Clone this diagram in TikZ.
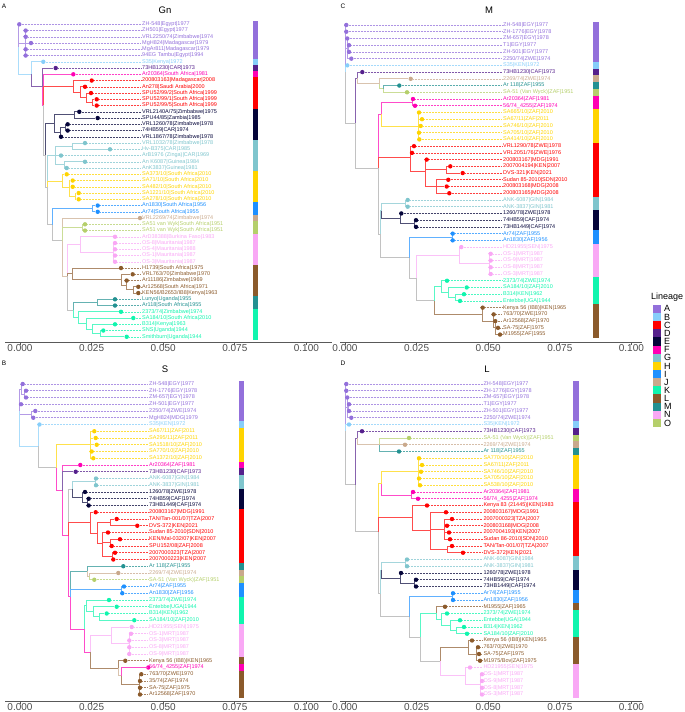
\documentclass[tikz,border=0pt]{standalone}
\usepackage{fontspec}
\setmainfont{Liberation Sans}
\pgfdeclarelayer{bg}
\pgfsetlayers{bg,main}
\definecolor{linA}{HTML}{9370DB}
\definecolor{linB}{HTML}{87CEFA}
\definecolor{linC}{HTML}{FF0000}
\definecolor{linD}{HTML}{55208C}
\definecolor{linE}{HTML}{05053A}
\definecolor{linF}{HTML}{FF00B4}
\definecolor{linG}{HTML}{7FC5CD}
\definecolor{linH}{HTML}{FFD400}
\definecolor{linI}{HTML}{1E90FF}
\definecolor{linJ}{HTML}{C9A98C}
\definecolor{linK}{HTML}{10F5AE}
\definecolor{linL}{HTML}{8B5A2B}
\definecolor{linM}{HTML}{239191}
\definecolor{linN}{HTML}{F9A8F5}
\definecolor{linO}{HTML}{B5CF6B}
\definecolor{linX}{HTML}{A8A8A8}

\begin{document}
\begin{tikzpicture}[x=1pt,y=-1pt,
    tipdot/.style={circle,inner sep=0pt,minimum size=4.4pt},
    tiplab/.style={anchor=west,inner sep=0pt,font=\fontsize{5.5}{6}\selectfont},
    lead/.style={line width=0.6pt,dash pattern=on 0.6pt off 0.9pt},
    br/.style={line width=0.9pt},
    ttl/.style={font=\fontsize{9.5}{11}\selectfont},
    plab/.style={font=\fontsize{6.5}{7}\selectfont},
    axis/.style={line width=0.8pt,black!65},
    axlab/.style={inner sep=0pt,font=\fontsize{10}{11}\selectfont,text=black!70},
    leglab/.style={anchor=west,inner sep=0pt,font=\fontsize{9}{10}\selectfont}]
\useasboundingbox (0,0) rectangle (685,712);

% panel letters and titles
\node[plab] (pA) at (4,6) {A};
\node[plab] (pB) at (4,363) {B};
\node[plab] (pC) at (343,6) {C};
\node[plab] (pD) at (343,363) {D};
\node[ttl] (tGn) at (165,10) {Gn};
\node[ttl] (tS) at (165,369) {S};
\node[ttl] (tM) at (489,10) {M};
\node[ttl] (tL) at (487,369) {L};

% axes
\foreach \ox/\oy/\xa/\xb in {20/342/5/332,20/701/5/332,345/342/340/642,345/701/340/642}{
  \draw[axis] (\xa,\oy) -- (\xb,\oy);
  \foreach \v [count=\j from 0] in {0.000,0.025,0.050,0.075,0.100}{
    \draw[axis] ({\ox+\j*71.6},\oy) -- ++(0,2.5);
    \node[axlab] at ({\ox+\j*71.6},{\oy+6.3}) {\v};
  }
}

% legend
\node[leglab] (leg) at (651,297) {Lineage};
\foreach \k [count=\j from 0] in {A,B,C,D,E,F,G,H,I,J,K,L,M,N,O}{
  \fill[lin\k] (653,{304.8+\j*8.15}) rectangle ++(8,8.15);
  \node[leglab] at (664,{308.9+\j*8.15}) {\k};
}

%% ---------------- panel A : Gn ----------------
\foreach \i/\x/\k/\t in {1/19.3/A/{ZH-548|Egypt|1977},2/25.7/A/{ZH501|Egypt|1977},
  3/25.7/A/{VRL2250/74|Zimbabwe|1974},4/31/A/{MgH824|Madagascar|1979},
  5/25.7/A/{MgAr811|Madagascar|1979},6/25.7/A/{94EG Tambu|Egypt|1994},
  7/43.3/B/{S35|Kenya|1972},8/55.7/D/{73HB1230|CAR|1973},9/73.3/F/{Ar20364|South Africa|1981},
  10/91.7/C/{200803163|Madagascar|2008},11/85/C/{An278|Saudi Arabia|2000},
  12/91/C/{SPU52/99/2|South Africa|1999},13/96.7/C/{SPU52/99/1|South Africa|1999},
  14/96.7/C/{SPU52/99/5|South Africa|1999},15/79.3/E/{VRL2140A/75|Zimbabwe|1975},
  16/97.7/E/{SPU44/85|Zambia|1985},17/67.7/E/{VRL1260/78|Zimbabwe|1978},
  18/67.7/E/{74HB59|CAR|1974},19/61/E/{VRL1867/78|Zimbabwe|1978},
  20/85/G/{VRL1032/78|Zimbabwe|1978},21/110/G/{Hv-B375|CAR|1985},
  22/61/G/{ArB1976 (Zinga)|CAR|1969},23/85/G/{An K6087|Guinea|1984},
  24/66.7/G/{AnK3837|Guinea|1981},25/66.7/H/{SA373/10|South Africa|2010},
  26/72.7/H/{SA71/10|South Africa|2010},27/72.7/H/{SA482/10|South Africa|2010},
  28/78.7/H/{SA1221/10|South Africa|2010},29/78.7/H/{SA278/10|South Africa|2010},
  30/97.7/I/{An1830|South Africa|1956},31/97.7/I/{Ar74|South Africa|1955},
  32/140/J/{VRL2269/74|Zimbabwe|1974},33/85/O/{SA51 van Wyk|South Africa|1951},
  34/85/O/{SA51 van Wyk|South Africa|1951},35/115/N/{ArD38388|Burkina Faso|1983},
  36/115/N/{OS-8|Mauritania|1987},37/115/N/{OS-4|Mauritania|1988},
  38/115/N/{OS-1|Mauritania|1987},39/115/N/{OS-3|Mauritania|1987},
  40/121/L/{H1739|South Africa|1975},41/132.7/L/{VRL763/70|Zimbabwe|1970},
  42/126.7/L/{Ar11186|Zimbabwe|1969},43/138.3/L/{Ar12568|South Africa|1971},
  44/138.3/L/{KEN56/B2653/IB8|Kenya|1963},45/115/M/{Lunyo|Uganda|1955},
  46/115/M/{Ar118|South Africa|1955},47/121/K/{2373/74|Zimbabwe|1974},
  48/133.3/K/{SA184/10|South Africa|2010},49/115/K/{B314|Kenya|1963},
  50/103.3/K/{SNS|Uganda|1944},51/126.7/K/{Smithburn|Uganda|1944}}{
  \pgfmathsetmacro\yy{24.3+(\i-1)*6.25}
  \node[tipdot,fill=lin\k] (a\i) at (\x,\yy) {};
  \draw[lead,lin\k!75] (a\i) -- (141,\yy);
  \node[tiplab,text=lin\k] at (142,\yy) {\t};
  \fill[lin\k] (253,\yy-3.13) rectangle (258,\yy+3.13);
}
\foreach \n/\x/\j in {aR/18.5/4.66,aA/25/4,aB1/31/8.99,aB2/42/10.98,aB3/43.5/13.97,
  aB4/45/21.96,aC/73/10.94,aC1/80/11.875,aC2/86/12.75,aC3/92/13.5,aE/54/16.875,
  aE1/74/15.5,aE2/60/18.25,aE3/65/17.5,aB5/47/27.04,aG/55/22,aG1/72/20.5,aG2/64/23.5,
  aH/62/26.08,aH1/69/27.17,aH2/75/28.5,aB6/52/33.05,aI/92/30.5,aB7/62/35.6,aO/82/33.5,
  aB8/67/41.3,aN/80/36.25,aN1/113/37.5,aL/72/40.94,aL1/121/41.875,aL2/126/42.75,
  aL3/133/43.5,aB9/73/46.72,aM/97/45.5,aK/78/47.94,aK1/86/48.875,aK2/92/49.75,aK3/100/50.5}
  \coordinate (\n) at (\x,{24.3+(\j-1)*6.25});
\begin{pgfonlayer}{bg}
\foreach \p/\c/\k in {aR/a1/A,aR/aA/A,aR/aB1/B,aA/a2/A,aA/a3/A,aA/a4/A,aA/a5/A,aA/a6/A,
  aB1/a7/B,aB1/aB2/D,aB2/a8/D,aB2/aB3/F,aB3/a9/F,aB3/aC/C,aB3/aB4/X,
  aC/a10/C,aC/aC1/C,aC1/a11/C,aC1/aC2/C,aC2/a12/C,aC2/aC3/C,aC3/a13/C,aC3/a14/C,
  aB4/aE/E,aB4/aB5/X,aE/aE1/E,aE/aE2/E,aE1/a15/E,aE1/a16/E,aE2/aE3/E,aE2/a19/E,
  aE3/a17/E,aE3/a18/E,aB5/aG/G,aB5/aH/H,aB5/aB6/X,aG/aG1/G,aG/a22/G,aG/aG2/G,
  aG1/a20/G,aG1/a21/G,aG2/a23/G,aG2/a24/G,aH/a25/H,aH/aH1/H,aH1/a26/H,aH1/a27/H,
  aH1/aH2/H,aH2/a28/H,aH2/a29/H,aB6/aI/I,aB6/aB7/X,aI/a30/I,aI/a31/I,
  aB7/a32/J,aB7/aO/O,aB7/aB8/J,aO/a33/O,aO/a34/O,aB8/aN/N,aB8/aL/L,aB8/aB9/X,
  aN/a35/N,aN/aN1/N,aN1/a36/N,aN1/a37/N,aN1/a38/N,aN1/a39/N,
  aL/a40/L,aL/aL1/L,aL1/a41/L,aL1/aL2/L,aL2/a42/L,aL2/aL3/L,aL3/a43/L,aL3/a44/L,
  aB9/aM/M,aB9/aK/K,aM/a45/M,aM/a46/M,aK/a47/K,aK/aK1/K,aK1/a48/K,aK1/aK2/K,
  aK2/a49/K,aK2/aK3/K,aK3/a50/K,aK3/a51/K}
  \draw[br,lin\k!70] (\p) |- (\c);
\end{pgfonlayer}

%% ---------------- panel B : S ----------------
\foreach \i/\x/\k/\t in {1/22.7/A/{ZH-548|EGY|1977},2/26/A/{ZH-1776|EGY|1978},
  3/26/A/{ZM-657|EGY|1978},4/21/A/{ZH-501|EGY|1977},5/35.3/A/{2250/74|ZWE|1974},
  6/33.3/A/{MgH824|MDG|1979},7/39.5/B/{S35|KEN|1972},8/94.3/H/{SA67/11|ZAF|2011},
  9/95.7/H/{SA295/11|ZAF|2011},10/96.7/H/{SA1518/10|ZAF|2010},11/91.7/H/{SA770/10|ZAF|2010},
  12/93.3/H/{SA1372/10|ZAF|2010},13/80.3/F/{Ar20364|ZAF|1981},14/75.7/D/{73HB1230|CAF|1973},
  15/96/G/{ANK-6087|GIN|1984},16/96/G/{ANK-3837|GIN|1981},17/85/E/{1260/78|ZWE|1978},
  18/88.7/E/{74HB59|CAF|1974},19/88.7/E/{73HB1449|CAF|1974},20/95.7/C/{200803167|MDG|1991},
  21/116.7/C/{TAN/Tan-001/07|TZA|2007},22/137.3/C/{DVS-372|KEN|2021},
  23/108/C/{Sudan 85-2010|SDN|2010},24/120/C/{KEN/Mal-032/07|KEN|2007},
  25/111.7/C/{SPU152/08|ZAF|2008},26/115/C/{2007000323|TZA|2007},
  27/113.3/C/{2007000223|KEN|2007},28/123.3/M/{Ar 118|ZAF|1955},
  29/118.3/J/{2269/74|ZWE|1974},30/94.3/O/{SA-51 (Van Wyck)|ZAF|1951},
  31/124/I/{Ar74|ZAF|1955},32/122.3/I/{An1830|ZAF|1956},33/109/K/{2373/74|ZWE|1974},
  34/116.7/K/{Entebbe|UGA|1944},35/106.7/K/{B314|KEN|1962},36/134.3/K/{SA184/10|ZAF|2010},
  37/131.7/N/{HD21955|SEN|1975},38/131/N/{OS-1|MRT|1987},39/129.3/N/{OS-3|MRT|1987},
  40/129.3/N/{OS-8|MRT|1987},41/129.3/N/{OS-9|MRT|1987},42/125.3/L/{Kenya 56 (IB8)|KEN|1965},
  43/148.3/F/{56/74\_4255|ZAF|1974},44/141.3/L/{763/70|ZWE|1970},45/140/L/{35/74|ZAF|1974},
  46/140/L/{SA-75|ZAF|1975},47/140/L/{Ar12568|ZAF|1970}}{
  \pgfmathsetmacro\yy{384+(\i-1)*6.75}
  \node[tipdot,fill=lin\k] (b\i) at (\x,\yy) {};
  \draw[lead,lin\k!75] (b\i) -- (148,\yy);
  \node[tiplab,text=lin\k] at (149,\yy) {\t};
  \fill[lin\k] (239,\yy-3.38) rectangle (244,\yy+3.38);
}
\foreach \n/\x/\j in {bR/19.3/5,bA0/21.5/1.75,bA1/24/2.5,bA2/31/5.5,bB1/38/10.2,
  bB2/56/13.4,bH/90/10,bB3/62/16.8,bB4/68/23.5,bGE/72/16.6,bG/95/15.5,bE/82/17.75,
  bE2/87/18.5,bC/90/21.54,bC2/97/23.08,bC3/110/21.5,bC4/102/24.67,bC5/110/24.5,
  bC6/112/26.5,bB5/70/32.5,bMJ/87/28.75,bJO/89/29.5,bI/121/31.5,bB6/84/37.3,
  bK/86/33.875,bK2/93/34.75,bK3/99/35.5,bB7/90/40.7,bN/111/38.25,bN1/129/39.5,
  bL/118/43.1,bL1/121/44.25,bL2/139/45.5}
  \coordinate (\n) at (\x,{384+(\j-1)*6.75});
\begin{pgfonlayer}{bg}
\foreach \p/\c/\k in {bR/bA0/A,bR/b4/A,bR/bA2/A,bR/bB1/B,bA0/b1/A,bA0/bA1/A,bA1/b2/A,
  bA1/b3/A,bA2/b5/A,bA2/b6/A,bB1/b7/B,bB1/bB2/X,bB2/bH/H,bB2/bB3/F,
  bH/b8/H,bH/b9/H,bH/b10/H,bH/b11/H,bH/b12/H,bB3/b13/F,bB3/b14/D,bB3/bB4/F,
  bB4/bGE/X,bB4/bC/C,bB4/bB5/F,bGE/bG/G,bGE/bE/E,bG/b15/G,bG/b16/G,bE/b17/E,
  bE/bE2/E,bE2/b18/E,bE2/b19/E,bC/b20/C,bC/bC2/C,bC2/bC3/C,bC2/bC4/C,bC3/b21/C,
  bC3/b22/C,bC4/b23/C,bC4/bC5/C,bC4/bC6/C,bC5/b24/C,bC5/b25/C,bC6/b26/C,bC6/b27/C,
  bB5/bMJ/M,bB5/bI/I,bB5/bB6/F,bMJ/b28/M,bMJ/bJO/J,bJO/b29/J,bJO/b30/O,
  bI/b31/I,bI/b32/I,bB6/bK/K,bB6/bB7/F,bK/b33/K,bK/bK2/K,bK2/b34/K,bK2/bK3/K,
  bK3/b35/K,bK3/b36/K,bB7/bN/N,bB7/bL/L,bN/b37/N,bN/bN1/N,bN1/b38/N,bN1/b39/N,
  bN1/b40/N,bN1/b41/N,bL/b42/L,bL/bL1/J,bL1/b43/F,bL1/bL2/L,bL2/b44/L,bL2/b45/L,
  bL2/b46/L,bL2/b47/L}
  \draw[br,lin\k!70] (\p) |- (\c);
\end{pgfonlayer}

%% ---------------- panel C : M ----------------
\foreach \i/\x/\k/\t in {1/346.3/A/{ZH-548|EGY|1977},2/346.3/A/{ZH-1776|EGY|1978},
  3/347.3/A/{ZM-657|EGY|1978},4/349/A/{T1|EGY|1977},5/349/A/{ZH-501|EGY|1977},
  6/351.3/A/{2250/74|ZWE|1974},7/347.3/B/{S35|KEN|1972},8/362.3/D/{73HB1230|CAF|1973},
  9/410.7/J/{2269/74|ZWE|1974},10/399.3/M/{Ar 118|ZAF|1955},
  11/407/O/{SA-51 (Van Wyck)|ZAF|1951},12/413/F/{Ar20364|ZAF|1981},
  13/415/F/{56/74\_4255|ZAF|1974},14/419/H/{SA665/10|ZAF|2010},15/422/H/{SA67/11|ZAF|2011},
  16/420.7/H/{SA746/10|ZAF|2010},17/419/H/{SA705/10|ZAF|2010},18/419.3/H/{SA414/10|ZAF|2010},
  19/414/C/{VRL1290/78|ZWE|1978},20/412/C/{VRL2051/76|ZWE|1976},
  21/426.7/C/{200803167|MDG|1991},22/450.3/C/{2007004194|KEN|2007},
  23/462.7/C/{DVS-321|KEN|2021},24/448.3/C/{Sudan 85-2010|SDN|2010},
  25/446.7/C/{200803168|MDG|2008},26/449.3/C/{200803165|MDG|2008},
  27/407.7/G/{ANK-6087|GIN|1984},28/407.7/G/{ANK-3837|GIN|1981},
  29/401.3/E/{1260/78|ZWE|1978},30/416/E/{74HB59|CAF|1974},31/416/E/{73HB1449|CAF|1974},
  32/452.7/I/{Ar74|ZAF|1955},33/452.7/I/{An1830|ZAF|1956},34/461.3/N/{HD21955|SEN|1975},
  35/490.7/N/{OS-1|MRT|1987},36/490.7/N/{OS-9|MRT|1987},37/490.7/N/{OS-8|MRT|1987},
  38/490.7/N/{OS-3|MRT|1987},39/447/K/{2373/74|ZWE|1974},40/466.7/K/{SA184/10|ZAF|2010},
  41/464/K/{B314|KEN|1962},42/460/K/{Entebbe|UGA|1944},43/482.7/L/{Kenya 56 (IB8)|KEN|1965},
  44/493.7/L/{763/70|ZWE|1970},45/495.3/L/{Ar12568|ZAF|1970},46/498/L/{SA-75|ZAF|1975},
  47/500/L/{M1955|ZAF|1955}}{
  \pgfmathsetmacro\yy{25+(\i-1)*6.73}
  \node[tipdot,fill=lin\k] (c\i) at (\x,\yy) {};
  \draw[lead,lin\k!75] (c\i) -- (502,\yy);
  \node[tiplab,text=lin\k] at (503,\yy) {\t};
  \fill[lin\k] (593,\yy-3.37) rectangle (599,\yy+3.37);
}
\foreach \n/\x/\j in {cR/345.5/8,cA1/347/4.5,cA2/348.3/4.5,cN1/355.7/15.6,cN2/357/8.875,
  cN2b/379/9.75,cN2c/383/10.5,cB3/378/22.3,cN4/381.7/14.25,cF/412/12.5,cH/418/16,
  cC/410/20.61,cC2/425/22.83,cC3/446/22.5,cC4/436/25,cB7/380/32.1,cN7a/381.5/28.6,
  cG/405/27.5,cE/400/29.75,cE1/414/30.5,cB8/409.3/35.55,cI/452/32.5,cB9/416/38.6,
  cN/459/35.25,cN1p/489/36.5,cB10/434/41.94,cK/441/39.875,cK2/448/40.75,cK3/455/41.5,
  cL/482/44,cL2/493/45,cL3/495/46}
  \coordinate (\n) at (\x,{25+(\j-1)*6.73});
\begin{pgfonlayer}{bg}
\foreach \p/\c/\k in {cR/c1/A,cR/c2/A,cR/cA1/A,cR/c7/B,cR/cN1/X,cA1/c3/A,cA1/cA2/A,
  cA1/c6/A,cA2/c4/A,cA2/c5/A,cN1/cN2/D,cN1/cB3/X,cN2/c8/D,cN2/cN2b/J,cN2b/c9/J,
  cN2b/cN2c/O,cN2c/c10/M,cN2c/c11/O,cB3/cN4/F,cB3/cC/C,cB3/cB7/X,cN4/cF/F,cN4/cH/H,
  cF/c12/F,cF/c13/F,cH/c14/H,cH/c15/H,cH/c16/H,cH/c17/H,cH/c18/H,
  cC/c19/C,cC/c20/C,cC/cC2/C,cC2/c21/C,cC2/cC3/C,cC2/cC4/C,cC3/c22/C,cC3/c23/C,
  cC4/c24/C,cC4/c25/C,cC4/c26/C,cB7/cN7a/G,cB7/cB8/X,cN7a/cG/G,cN7a/cE/E,
  cG/c27/G,cG/c28/G,cE/c29/E,cE/cE1/E,cE1/c30/E,cE1/c31/E,cB8/cI/I,cB8/cB9/X,
  cI/c32/I,cI/c33/I,cB9/cN/N,cB9/cB10/X,cN/c34/N,cN/cN1p/N,cN1p/c35/N,cN1p/c36/N,
  cN1p/c37/N,cN1p/c38/N,cB10/cK/K,cB10/cL/L,cK/c39/K,cK/cK2/K,cK2/c40/K,cK2/cK3/K,
  cK3/c41/K,cK3/c42/K,cL/c43/L,cL/cL2/L,cL2/c44/L,cL2/cL3/L,cL3/c45/L,cL3/c46/L,cL3/c47/L}
  \draw[br,lin\k!70] (\p) |- (\c);
\end{pgfonlayer}

%% ---------------- panel D : L ----------------
\foreach \i/\x/\k/\t in {1/346.3/A/{ZH-548|EGY|1977},2/346.3/A/{ZH-1776|EGY|1978},
  3/347.3/A/{ZM-657|EGY|1978},4/349/A/{T1|EGY|1977},5/349/A/{ZH-501|EGY|1977},
  6/351.3/A/{2250/74|ZWE|1974},7/349/B/{S35|KEN|1972},8/362/D/{73HB1230|CAF|1973},
  9/409/O/{SA-51 (Van Wyck)|ZAF|1951},10/405/J/{2269/74|ZWE|1974},
  11/399/M/{Ar 118|ZAF|1955},12/419/H/{SA770/10|ZAF|2010},13/422/H/{SA67/11|ZAF|2011},
  14/421/H/{SA746/10|ZAF|2010},15/419/H/{SA705/10|ZAF|2010},16/420/H/{SA538/10|ZAF|2010},
  17/413/F/{Ar20364|ZAF|1981},18/418/F/{56/74\_4255|ZAF|1974},
  19/427/C/{Kenya 83 (21445)|KEN|1983},20/446/C/{200803167|MDG|1991},
  21/452/C/{2007000323|TZA|2007},22/447/C/{200803168|MDG|2008},
  23/449/C/{2007004193|KEN|2007},24/450/C/{Sudan 86-2010|SDN|2010},
  25/452/C/{TAN/Tan-001/07|TZA|2007},26/463/C/{DVS-372|KEN|2021},
  27/407/G/{ANK-6087|GIN|1984},28/407/G/{ANK-3837|GIN|1981},29/401/E/{1260/78|ZWE|1978},
  30/416/E/{74HB59|CAF|1974},31/416/E/{73HB1449|CAF|1974},32/453/I/{Ar74|ZAF|1955},
  33/453/I/{An1830|ZAF|1956},34/445/L/{M1955|ZAF|1965},35/447/K/{2373/74|ZWE|1974},
  36/460/K/{Entebbe|UGA|1944},37/464/K/{B314|KEN|1962},38/467/K/{SA184/10|ZAF|2010},
  39/472/L/{Kenya 56 (IB8)|KEN|1965},40/478/L/{763/70|ZWE|1970},41/479/L/{SA-75|ZAF|1975},
  42/480/L/{M1975/Bov|ZAF|1975},43/470/N/{HD21955|SEN|1975},44/482/N/{OS-1|MRT|1987},
  45/482/N/{OS-9|MRT|1987},46/482/N/{OS-8|MRT|1987},47/482/N/{OS-3|MRT|1987}}{
  \pgfmathsetmacro\yy{384+(\i-1)*6.75}
  \node[tipdot,fill=lin\k] (d\i) at (\x,\yy) {};
  \draw[lead,lin\k!75] (d\i) -- (482.5,\yy);
  \node[tiplab,text=lin\k] at (483.3,\yy) {\t};
  \fill[lin\k] (573,\yy-3.38) rectangle (579,\yy+3.38);
}
\foreach \n/\x/\j in {dR/345.5/8,dA1/347/4.5,dA2/348.3/4.5,dN1/355.7/15.95,dN2/357/9,
  dJ/379/10,dB3/378/22.9,dN4/381.7/15.75,dH/418/14,dF/411/17.5,dC/412/20.83,
  dC2/430/22.67,dC3/444/22.5,dC4/447/25.5,dB7/380/32.05,dN7a/381.5/28.6,dG/405/27.5,
  dE/400/29.75,dE1/414/30.5,dB8/409/35.5,dI/452/32.5,dB9/420/38.5,dKL/436/34.95,
  dK/441/35.9,dK2/450/36.75,dK3/456/37.5,dB10/440/42.1,dL/468/40,dL3/476/41,
  dN/465/44.25,dN1p/480/45.5}
  \coordinate (\n) at (\x,{384+(\j-1)*6.75});
\begin{pgfonlayer}{bg}
\foreach \p/\c/\k in {dR/d1/A,dR/d2/A,dR/dA1/A,dR/d7/B,dR/dN1/X,dA1/d3/A,dA1/dA2/A,
  dA1/d6/A,dA2/d4/A,dA2/d5/A,dN1/dN2/D,dN1/dB3/X,dN2/d8/D,dN2/dJ/J,dJ/d9/O,dJ/d10/J,
  dJ/d11/M,dB3/dN4/H,dB3/dC/C,dB3/dB7/X,dN4/dH/H,dN4/dF/F,dH/d12/H,dH/d13/H,dH/d14/H,
  dH/d15/H,dH/d16/H,dF/d17/F,dF/d18/F,dC/d19/C,dC/dC2/C,dC2/d20/C,dC2/dC3/C,dC2/dC4/C,
  dC3/d21/C,dC3/d22/C,dC3/d23/C,dC3/d24/C,dC4/d25/C,dC4/d26/C,dB7/dN7a/G,dB7/dB8/X,
  dN7a/dG/G,dN7a/dE/E,dG/d27/G,dG/d28/G,dE/d29/E,dE/dE1/E,dE1/d30/E,dE1/d31/E,
  dB8/dI/I,dB8/dB9/X,dI/d32/I,dI/d33/I,dB9/dKL/K,dB9/dB10/X,dKL/d34/L,dKL/dK/K,
  dK/d35/K,dK/dK2/K,dK2/d36/K,dK2/dK3/K,dK3/d37/K,dK3/d38/K,dB10/dL/L,dB10/dN/N,
  dL/d39/L,dL/dL3/L,dL3/d40/L,dL3/d41/L,dL3/d42/L,dN/d43/N,dN/dN1p/N,dN1p/d44/N,
  dN1p/d45/N,dN1p/d46/N,dN1p/d47/N}
  \draw[br,lin\k!70] (\p) |- (\c);
\end{pgfonlayer}
\end{tikzpicture}
\end{document}
